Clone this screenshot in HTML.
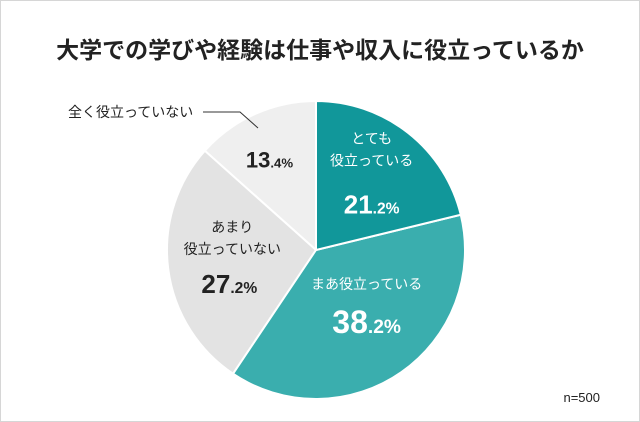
<!DOCTYPE html>
<html><head><meta charset="utf-8"><style>
body{margin:0;background:#fff}
#c{position:relative;width:640px;height:422px;font-family:"Liberation Sans","Noto Sans CJK JP",sans-serif;border:1px solid #d6d6d6;box-sizing:border-box}
</style></head><body>
<div id="c">
<svg id="s" width="640" height="422" style="position:absolute;left:-1px;top:-1px">
<text x="320" y="58" text-anchor="middle" font-size="23" font-weight="bold" fill="#222">大学での学びや経験は仕事や収入に役立っているか</text>
<text x="600" y="402" text-anchor="end" font-size="13" fill="#222">n=500</text>
<polyline points="203,112 240,112 258,128" fill="none" stroke="#333" stroke-width="1"/>
<text x="68" y="117" font-size="14" fill="#222">全く役立っていない</text>
</svg>
</div>
<script>
const categories=["とても役立っている","まあ役立っている","あまり役立っていない","全く役立っていない"];
const values=[21.2,38.2,27.2,13.4];
const colors=["#11979a","#3aaeae","#e3e3e3","#efefef"];
const ns="http://www.w3.org/2000/svg",s=document.getElementById('s');
const cx=316,cy=250,r=149;
const total=values.reduce((a,b)=>a+b,0);
function pt(a,rr){return [cx+rr*Math.sin(a),cy-rr*Math.cos(a)];}
let a0=0;const mids=[];
values.forEach((v,i)=>{
 const a1=a0+v/total*2*Math.PI;
 const p0=pt(a0,r),p1=pt(a1,r);
 const p=document.createElementNS(ns,'path');
 p.setAttribute('d',`M${cx},${cy}L${p0[0]},${p0[1]}A${r},${r} 0 ${a1-a0>Math.PI?1:0} 1 ${p1[0]},${p1[1]}Z`);
 p.setAttribute('fill',colors[i]);p.setAttribute('stroke','#fff');p.setAttribute('stroke-width','2');
 
 
 s.insertBefore(p,s.firstChild.nextSibling);
 mids.push((a0+a1)/2);a0=a1;
});
function txt(x,y,str,size,fill,bold,name){
 const t=document.createElementNS(ns,'text');
 t.setAttribute('x',x);t.setAttribute('y',y);t.setAttribute('text-anchor','middle');
 t.setAttribute('font-size',size);t.setAttribute('fill',fill);if(bold)t.setAttribute('font-weight','bold');
 t.innerHTML=str;
 
 
 s.appendChild(t);return t;
}
function pct(v,big){const st=String(v.toFixed(1)).split('.');return `${st[0]}<tspan font-size="${big*0.6}">.${st[1]}%</tspan>`;}
let p=pt(mids[0],r*0.55);
txt(p[0]+5,p[1]-42,"とても",14,"#fff",false,"label-very-useful");
txt(p[0]+5,p[1]-20,"役立っている",14,"#fff",false,"label-very-useful-2");
txt(p[0]+5,p[1]+28,pct(values[0],26),26,"#fff",true,"value-very-useful");
p=pt(mids[1],r*0.5);
txt(p[0]+8,p[1]-22,"まあ役立っている",14,"#fff",false,"label-somewhat-useful");
txt(p[0]+8,p[1]+22,pct(values[1],32),32,"#fff",true,"value-somewhat-useful");
p=pt(mids[2],r*0.6);
txt(p[0]+5,p[1]-29,"あまり",14,"#222",false,"label-not-very-useful");
txt(p[0]+5,p[1]-7,"役立っていない",14,"#222",false,"label-not-very-useful-2");
txt(p[0]+2,p[1]+32,pct(values[2],26),26,"#222",true,"value-not-very-useful");
p=pt(mids[3],r*0.6);
txt(p[0]-10,p[1]-1,pct(values[3],22),22,"#222",true,"value-not-useful");
</script>
</body></html>
